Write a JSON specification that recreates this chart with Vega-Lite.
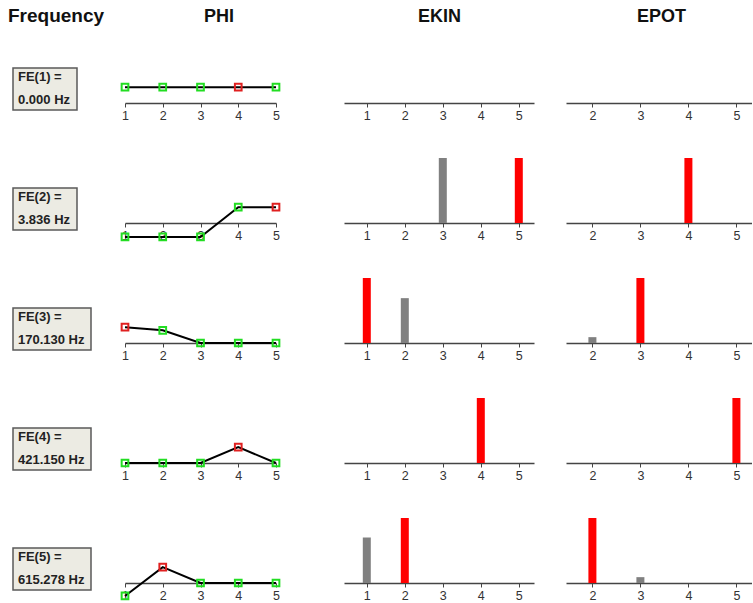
{
  "$schema": "https://vega.github.io/schema/vega-lite/v6.json",
  "background": "white",
  "padding": {"left": 0, "top": 7, "right": 0, "bottom": 0},
  "config": {
    "view": {"stroke": null},
    "font": "Liberation Sans",
    "title": {"font": "Liberation Sans", "fontSize": 18, "fontWeight": "bold", "color": "#111111", "offset": 12, "frame": "group", "anchor": "start"},
    "axis": {
      "grid": false,
      "title": null,
      "domainColor": "#444444",
      "domainWidth": 1.5,
      "tickColor": "#444444",
      "tickSize": 4,
      "tickWidth": 1,
      "labelColor": "#333333",
      "labelFont": "Liberation Sans",
      "labelFontSize": 12.5,
      "labelPadding": 2,
      "labelFlush": false,
      "labelOverlap": false
    }
  },
  "datasets": {
    "modes": [
      {"mode": 1, "l1": "FE(1) =", "l2": "0.000 Hz", "hz": 0.0},
      {"mode": 2, "l1": "FE(2) =", "l2": "3.836 Hz", "hz": 3.836},
      {"mode": 3, "l1": "FE(3) =", "l2": "170.130 Hz", "hz": 170.13},
      {"mode": 4, "l1": "FE(4) =", "l2": "421.150 Hz", "hz": 421.15},
      {"mode": 5, "l1": "FE(5) =", "l2": "615.278 Hz", "hz": 615.278}
    ],
    "phi": [
      {"mode": 1, "dof": 1, "phi": 1, "max": "no"},
      {"mode": 1, "dof": 2, "phi": 1, "max": "no"},
      {"mode": 1, "dof": 3, "phi": 1, "max": "no"},
      {"mode": 1, "dof": 4, "phi": 1, "max": "yes"},
      {"mode": 1, "dof": 5, "phi": 1, "max": "no"},
      {"mode": 2, "dof": 1, "phi": -0.88, "max": "no"},
      {"mode": 2, "dof": 2, "phi": -0.88, "max": "no"},
      {"mode": 2, "dof": 3, "phi": -0.88, "max": "no"},
      {"mode": 2, "dof": 4, "phi": 1, "max": "no"},
      {"mode": 2, "dof": 5, "phi": 1, "max": "yes"},
      {"mode": 3, "dof": 1, "phi": 1, "max": "yes"},
      {"mode": 3, "dof": 2, "phi": 0.8, "max": "no"},
      {"mode": 3, "dof": 3, "phi": 0, "max": "no"},
      {"mode": 3, "dof": 4, "phi": 0, "max": "no"},
      {"mode": 3, "dof": 5, "phi": 0, "max": "no"},
      {"mode": 4, "dof": 1, "phi": 0, "max": "no"},
      {"mode": 4, "dof": 2, "phi": 0, "max": "no"},
      {"mode": 4, "dof": 3, "phi": 0, "max": "no"},
      {"mode": 4, "dof": 4, "phi": 1, "max": "yes"},
      {"mode": 4, "dof": 5, "phi": 0, "max": "no"},
      {"mode": 5, "dof": 1, "phi": -0.82, "max": "no"},
      {"mode": 5, "dof": 2, "phi": 1, "max": "yes"},
      {"mode": 5, "dof": 3, "phi": 0, "max": "no"},
      {"mode": 5, "dof": 4, "phi": 0, "max": "no"},
      {"mode": 5, "dof": 5, "phi": 0, "max": "no"}
    ],
    "ekin": [
      {"mode": 1, "dof": 1, "e": 0, "max": "no"},
      {"mode": 1, "dof": 2, "e": 0, "max": "no"},
      {"mode": 1, "dof": 3, "e": 0, "max": "no"},
      {"mode": 1, "dof": 4, "e": 0, "max": "no"},
      {"mode": 1, "dof": 5, "e": 0, "max": "no"},
      {"mode": 2, "dof": 1, "e": 0, "max": "no"},
      {"mode": 2, "dof": 2, "e": 0, "max": "no"},
      {"mode": 2, "dof": 3, "e": 1, "max": "no"},
      {"mode": 2, "dof": 4, "e": 0, "max": "no"},
      {"mode": 2, "dof": 5, "e": 1, "max": "yes"},
      {"mode": 3, "dof": 1, "e": 1, "max": "yes"},
      {"mode": 3, "dof": 2, "e": 0.69, "max": "no"},
      {"mode": 3, "dof": 3, "e": 0, "max": "no"},
      {"mode": 3, "dof": 4, "e": 0, "max": "no"},
      {"mode": 3, "dof": 5, "e": 0, "max": "no"},
      {"mode": 4, "dof": 1, "e": 0, "max": "no"},
      {"mode": 4, "dof": 2, "e": 0, "max": "no"},
      {"mode": 4, "dof": 3, "e": 0, "max": "no"},
      {"mode": 4, "dof": 4, "e": 1, "max": "yes"},
      {"mode": 4, "dof": 5, "e": 0, "max": "no"},
      {"mode": 5, "dof": 1, "e": 0.7, "max": "no"},
      {"mode": 5, "dof": 2, "e": 1, "max": "yes"},
      {"mode": 5, "dof": 3, "e": 0, "max": "no"},
      {"mode": 5, "dof": 4, "e": 0, "max": "no"},
      {"mode": 5, "dof": 5, "e": 0, "max": "no"}
    ],
    "epot": [
      {"mode": 1, "dof": 2, "e": 0, "max": "no"},
      {"mode": 1, "dof": 3, "e": 0, "max": "no"},
      {"mode": 1, "dof": 4, "e": 0, "max": "no"},
      {"mode": 1, "dof": 5, "e": 0, "max": "no"},
      {"mode": 2, "dof": 2, "e": 0, "max": "no"},
      {"mode": 2, "dof": 3, "e": 0, "max": "no"},
      {"mode": 2, "dof": 4, "e": 1, "max": "yes"},
      {"mode": 2, "dof": 5, "e": 0, "max": "no"},
      {"mode": 3, "dof": 2, "e": 0.09, "max": "no"},
      {"mode": 3, "dof": 3, "e": 1, "max": "yes"},
      {"mode": 3, "dof": 4, "e": 0, "max": "no"},
      {"mode": 3, "dof": 5, "e": 0, "max": "no"},
      {"mode": 4, "dof": 2, "e": 0, "max": "no"},
      {"mode": 4, "dof": 3, "e": 0, "max": "no"},
      {"mode": 4, "dof": 4, "e": 0, "max": "no"},
      {"mode": 4, "dof": 5, "e": 1, "max": "yes"},
      {"mode": 5, "dof": 2, "e": 1, "max": "yes"},
      {"mode": 5, "dof": 3, "e": 0.09, "max": "no"},
      {"mode": 5, "dof": 4, "e": 0, "max": "no"},
      {"mode": 5, "dof": 5, "e": 0, "max": "no"}
    ]
  },
  "spacing": 60,
  "resolve": {"scale": {"color": "independent", "x": "independent", "y": "independent"}},
  "hconcat": [
    {
      "spacing": 12,
      "resolve": {"scale": {"color": "independent", "x": "independent", "y": "independent"}},
      "hconcat": [
        {
          "data": {"name": "modes"},
          "title": {"text": "Frequency", "dx": 8, "fontSize": 19},
          "bounds": "flush",
          "spacing": {"row": 55},
          "facet": {"row": {"field": "mode", "type": "ordinal", "header": null}},
          "spec": {
            "width": 100,
            "height": 65,
            "layer": [
              {
                "transform": [{"filter": "datum.hz < 100"}],
                "mark": {"type": "rect", "fill": "#ecebe3", "stroke": "#5a5a5a", "strokeWidth": 1.5},
                "encoding": {
                  "x": {"datum": 13, "type": "quantitative", "scale": {"domain": [0, 100], "nice": false, "zero": false}, "axis": null},
                  "x2": {"datum": 77},
                  "y": {"datum": -7, "type": "quantitative", "scale": {"domain": [0, 65], "nice": false}, "axis": null},
                  "y2": {"datum": 35}
                }
              },
              {
                "transform": [{"filter": "datum.hz >= 100"}],
                "mark": {"type": "rect", "fill": "#ecebe3", "stroke": "#5a5a5a", "strokeWidth": 1.5},
                "encoding": {
                  "x": {"datum": 13, "type": "quantitative"},
                  "x2": {"datum": 91},
                  "y": {"datum": -7, "type": "quantitative"},
                  "y2": {"datum": 35}
                }
              },
              {
                "mark": {"type": "text", "align": "left", "baseline": "middle", "fontWeight": "bold", "fontSize": 13, "color": "#222222"},
                "encoding": {
                  "x": {"datum": 18, "type": "quantitative"},
                  "y": {"datum": 26, "type": "quantitative"},
                  "text": {"field": "l1"}
                }
              },
              {
                "mark": {"type": "text", "align": "left", "baseline": "middle", "fontWeight": "bold", "fontSize": 13, "color": "#222222"},
                "encoding": {
                  "x": {"datum": 18, "type": "quantitative"},
                  "y": {"datum": 3, "type": "quantitative"},
                  "text": {"field": "l2"}
                }
              }
            ]
          }
        },
        {
          "data": {"name": "phi"},
          "title": {"text": "PHI", "dx": 79},
          "bounds": "flush",
          "spacing": {"row": 55},
          "facet": {"row": {"field": "mode", "type": "ordinal", "header": null}},
          "resolve": {"axis": {"x": "independent"}},
          "spec": {
            "width": 151,
            "height": 65,
            "encoding": {
              "x": {"field": "dof", "type": "quantitative", "scale": {"domain": [1, 5], "nice": false, "zero": false}, "axis": {"values": [1, 2, 3, 4, 5], "format": "d"}},
              "y": {"field": "phi", "type": "quantitative", "scale": {"domain": [0, 4.11], "nice": false}, "axis": null}
            },
            "layer": [
              {
                "mark": {"type": "line", "color": "black", "strokeWidth": 2}
              },
              {
                "mark": {"type": "point", "shape": "square", "filled": false, "strokeWidth": 2, "size": 45, "opacity": 1},
                "encoding": {
                  "color": {"field": "max", "type": "nominal", "scale": {"domain": ["no", "yes"], "range": ["#22dd22", "#e02020"]}, "legend": null}
                }
              }
            ]
          }
        }
      ]
    },
    {
      "spacing": 32,
      "resolve": {"scale": {"color": "independent", "x": "independent", "y": "independent"}},
      "hconcat": [
        {
          "data": {"name": "ekin"},
          "title": {"text": "EKIN", "dx": 74},
          "bounds": "flush",
          "spacing": {"row": 55},
          "facet": {"row": {"field": "mode", "type": "ordinal", "header": null}},
          "resolve": {"axis": {"x": "independent"}},
          "spec": {
            "width": 190,
            "height": 65,
            "mark": {"type": "bar", "width": 8},
            "encoding": {
              "x": {"field": "dof", "type": "quantitative", "scale": {"domain": [0.4, 5.4], "nice": false, "zero": false, "padding": 0}, "axis": {"values": [1, 2, 3, 4, 5], "format": "d"}},
              "y": {"field": "e", "type": "quantitative", "scale": {"domain": [0, 1], "nice": false}, "axis": null},
              "color": {"field": "max", "type": "nominal", "scale": {"domain": ["no", "yes"], "range": ["#808080", "#ff0000"]}, "legend": null}
            }
          }
        },
        {
          "data": {"name": "epot"},
          "title": {"text": "EPOT", "dx": 71},
          "bounds": "flush",
          "spacing": {"row": 55},
          "facet": {"row": {"field": "mode", "type": "ordinal", "header": null}},
          "resolve": {"axis": {"x": "independent"}},
          "spec": {
            "width": 186,
            "height": 65,
            "mark": {"type": "bar", "width": 8},
            "encoding": {
              "x": {"field": "dof", "type": "quantitative", "scale": {"domain": [1.45, 5.325], "nice": false, "zero": false, "padding": 0}, "axis": {"values": [2, 3, 4, 5], "format": "d"}},
              "y": {"field": "e", "type": "quantitative", "scale": {"domain": [0, 1], "nice": false}, "axis": null},
              "color": {"field": "max", "type": "nominal", "scale": {"domain": ["no", "yes"], "range": ["#808080", "#ff0000"]}, "legend": null}
            }
          }
        }
      ]
    }
  ]
}
